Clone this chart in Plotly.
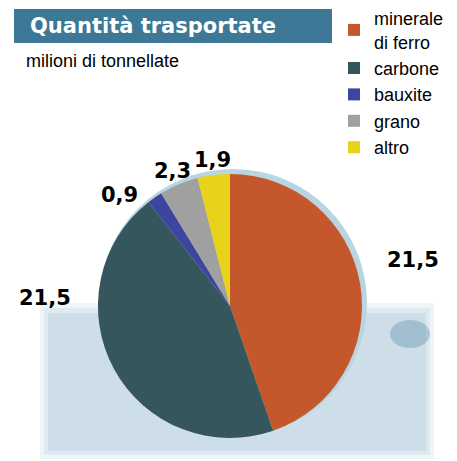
import plotly.graph_objects as go

# dati
categorie = ["minerale<br>di ferro", "carbone", "bauxite", "grano", "altro"]
valori    = [21.5, 21.5, 0.9, 2.3, 1.9]
colori    = ["#c4572b", "#36565e", "#3c46a0", "#a0a0a0", "#e8d21a"]

TITOLO      = "Quantità trasportate"
SOTTOTITOLO = "milioni di tonnellate"

# posizioni (px) delle etichette dei valori, come nell'originale
pos_etichette = [(413, 260), (45, 298), (120, 195), (172, 171), (212, 160)]

W, H = 457, 461
FONT = "Liberation Sans, Arial, sans-serif"
FONT_BOLD = "DejaVu Sans, Arial, sans-serif"

fig = go.Figure()

# bordo azzurro dietro la torta (effetto rilievo)
fig.add_trace(go.Pie(
    values=[sum(valori)],
    marker=dict(colors=["#b9d5e1"]),
    domain=dict(x=[0.2166, 0.8031], y=[0.0521, 0.6334]),
    textinfo="none", hoverinfo="skip", showlegend=False, sort=False,
))

# torta principale
fig.add_trace(go.Pie(
    labels=categorie,
    values=valori,
    marker=dict(colors=colori, line=dict(width=0)),
    sort=False,
    direction="clockwise",
    rotation=0,
    domain=dict(x=[0.2144, 0.7921], y=[0.0499, 0.6226]),
    textinfo="none",
    hovertemplate="%{label}: %{value:.1f}<extra></extra>",
))

# etichette dei valori
for v, (px, py) in zip(valori, pos_etichette):
    fig.add_annotation(x=px/W, y=1-py/H, xref="paper", yref="paper",
                       text="<b>" + f"{v:.1f}".replace(".", ",") + "</b>",
                       showarrow=False, xanchor="center", yanchor="middle",
                       font=dict(family=FONT_BOLD, size=21, color="black"))

# sfondo acquerello
fig.add_shape(type="rect", xref="paper", yref="paper",
              x0=40/W, x1=434/W, y0=1-459/H, y1=1-303/H,
              fillcolor="rgba(190,212,226,0.25)", line=dict(width=0), layer="below")
fig.add_shape(type="rect", xref="paper", yref="paper",
              x0=44/W, x1=430/W, y0=1-455/H, y1=1-308/H,
              fillcolor="rgba(185,208,223,0.3)", line=dict(width=0), layer="below")
fig.add_shape(type="rect", xref="paper", yref="paper",
              x0=48/W, x1=426/W, y0=1-451/H, y1=1-313/H,
              fillcolor="rgba(175,202,218,0.35)", line=dict(width=0), layer="below")
fig.add_shape(type="circle", xref="paper", yref="paper",
              x0=390/W, x1=430/W, y0=1-348/H, y1=1-320/H,
              fillcolor="rgba(95,145,175,0.4)", line=dict(width=0), layer="below")

# barra del titolo
fig.add_shape(type="rect", xref="paper", yref="paper",
              x0=14/W, x1=332/W, y0=1-43/H, y1=1-9/H,
              fillcolor="#3d7896", line=dict(width=0))
fig.add_annotation(x=28/W, y=1-26/H, xref="paper", yref="paper",
                   text="<b>" + TITOLO + "</b>", showarrow=False,
                   xanchor="left", yanchor="middle",
                   font=dict(family=FONT_BOLD, size=21, color="white"))
fig.add_annotation(x=24/W, y=1-61/H, xref="paper", yref="paper",
                   text=SOTTOTITOLO, showarrow=False,
                   xanchor="left", yanchor="middle",
                   font=dict(family=FONT, size=18, color="black"))

fig.update_layout(
    width=W, height=H,
    margin=dict(l=0, r=0, t=0, b=0),
    paper_bgcolor="white",
    plot_bgcolor="white",
    legend=dict(
        x=334/W, y=1, xanchor="left", yanchor="top",
        font=dict(family=FONT, size=18, color="black"),
        bgcolor="rgba(0,0,0,0)",
        itemwidth=30, tracegroupgap=0,
    ),
)

fig.write_html("out.html", config={"displayModeBar": False},
               post_script="document.body.style.margin='0';")
